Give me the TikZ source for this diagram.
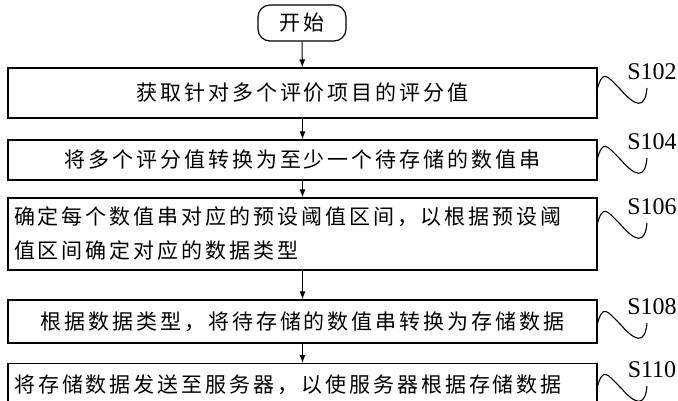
\documentclass[tikz,border=0pt]{standalone}
\usepackage{fontspec}
\newfontfamily\cjk[LetterSpace=14]{Noto Sans CJK SC}
\setmainfont{Liberation Serif}
\tikzset{
 stepbox/.style={draw,line width=1.2pt,inner sep=0pt,font=\cjk\fontsize{21}{34}\selectfont},
 arr/.style={-{Latex[length=8pt,width=6pt]},line width=1pt},
 wave/.style={line width=1.1pt},
 lab/.style={font=\fontsize{24}{26}\selectfont,inner sep=0pt}
}
\usetikzlibrary{arrows.meta}
\begin{document}
\begin{tikzpicture}[x=1pt,y=-1pt]
\useasboundingbox (0,0) rectangle (678,400);
\begin{scope}
\clip (0,0) rectangle (678,400);
\node[draw,line width=1.2pt,rounded corners=12pt,minimum width=88pt,minimum height=36pt,font=\cjk\fontsize{21}{22}\selectfont] (s) at (302,23) {开始};
\node[stepbox,minimum width=589pt,minimum height=50pt] (b1) at (302.5,93) {获取针对多个评价项目的评分值};
\node[stepbox,minimum width=589pt,minimum height=40pt] (b2) at (302.5,160) {将多个评分值转换为至少一个待存储的数值串};
\node[stepbox,minimum width=589pt,minimum height=72pt,align=left,text width=577pt] (b3) at (302.5,234) {确定每个数值串对应的预设阈值区间，以根据预设阈\\值区间确定对应的数据类型};
\node[stepbox,minimum width=589pt,minimum height=43pt] (b4) at (302.5,321.5) {根据数据类型，将待存储的数值串转换为存储数据};
\node[stepbox,minimum width=589pt,minimum height=80pt,anchor=north] (b5) at (302.5,363) {};
\node[font=\cjk\fontsize{21}{34}\selectfont,inner sep=0pt,anchor=west] (t5) at (14,385) {将存储数据发送至服务器，以使服务器根据存储数据};
\draw[arr] (s) -- (b1);
\draw[arr] (b1) -- (b2);
\draw[arr] (b2) -- (b3);
\draw[arr] (b3) -- (b4);
\draw[arr] (b4) -- (b5);
\foreach \n/\t/\y in {b1/S102/90,b2/S104/160,b3/S106/225,b4/S108/325,b5/S110/388}{
 \coordinate (w\n) at (597,\y);
 \draw[wave] (w\n) .. controls ++(6,-22) and ++(-14,-14) .. ++(24,0) .. controls ++(14,16) and ++(-2,22) .. ++(26,-2);
 \node[lab,anchor=south] (l\n) at (652,\y-10) {\t};
}
\end{scope}
\end{tikzpicture}
\end{document}
